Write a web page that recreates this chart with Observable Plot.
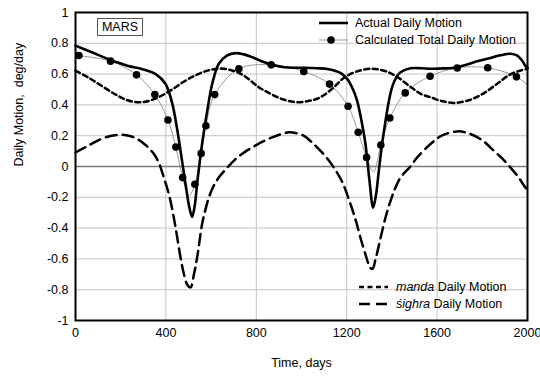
<!DOCTYPE html>
<html>
<head>
<meta charset="utf-8">
<script src="https://cdn.jsdelivr.net/npm/d3@7"></script>
<script src="https://cdn.jsdelivr.net/npm/@observablehq/plot@0.6"></script>
<style>
  html, body { margin: 0; padding: 0; background: #fff; }
  #chart { width: 540px; height: 379px; }
</style>
</head>
<body>
<div id="chart"></div>
<script>
// ---- data ----
const actualT = [0,75,150,230,300,355,398,428,450,465,487,503,516,528,538,560,583,605,634,670,708,745,782,830,870,922,973,1010,1069,1120,1172,1202,1228,1246,1265,1283,1300,1317,1330,1342,1357,1372,1386,1401,1420,1438,1482,1530,1571,1630,1689,1740,1777,1836,1880,1925,1955,1975,1990,2000];
const actualV = [0.785,0.74,0.695,0.655,0.63,0.60,0.537,0.41,0.24,0.10,-0.115,-0.26,-0.328,-0.25,-0.115,0.146,0.363,0.537,0.667,0.72,0.736,0.728,0.71,0.68,0.66,0.645,0.641,0.641,0.638,0.632,0.608,0.569,0.50,0.428,0.30,0.146,-0.08,-0.267,-0.18,-0.028,0.15,0.298,0.42,0.515,0.58,0.612,0.638,0.638,0.635,0.637,0.645,0.665,0.684,0.705,0.722,0.732,0.72,0.69,0.655,0.64];

const calcDotT = [15,155,270,351,409,444,474,528,556,577,616,723,866,1010,1124,1206,1251,1288,1351,1391,1459,1569,1689,1824,1951];
const calcDotV = [0.721,0.684,0.595,0.467,0.302,0.126,-0.072,-0.115,0.085,0.265,0.467,0.635,0.66,0.617,0.535,0.391,0.222,0.059,0.139,0.315,0.478,0.586,0.64,0.641,0.582];

const calcLineT = [0,15,155,270,351,409,444,474,503,528,556,577,616,723,866,1010,1124,1206,1251,1288,1318,1351,1391,1459,1569,1689,1824,1951,2000];
const calcLineV = [0.727,0.721,0.684,0.595,0.467,0.302,0.126,-0.072,-0.19,-0.115,0.085,0.265,0.467,0.635,0.66,0.617,0.535,0.391,0.222,0.059,-0.035,0.139,0.315,0.478,0.586,0.64,0.641,0.582,0.53];

const mandaT = [0,60,125,180,230,290,351,420,487,540,590,640,690,740,811,863,920,981,1040,1084,1140,1187,1240,1310,1370,1420,1480,1530,1571,1620,1674,1740,1800,1866,1920,1969,2000];
const mandaV = [0.623,0.575,0.515,0.465,0.43,0.417,0.439,0.493,0.558,0.598,0.625,0.636,0.625,0.595,0.515,0.472,0.435,0.417,0.428,0.45,0.51,0.575,0.615,0.635,0.62,0.585,0.52,0.47,0.45,0.425,0.413,0.43,0.47,0.537,0.595,0.623,0.635];

const sighraT = [0,50,96,150,199,240,273,310,347,370,391,415,435,450,465,480,494,509,524,538,560,575,590,610,634,670,708,745,782,830,870,910,944,980,1010,1040,1069,1110,1143,1180,1217,1240,1261,1285,1303,1314,1328,1350,1372,1394,1415,1438,1482,1512,1571,1620,1689,1740,1800,1851,1890,1925,1960,1991,2000];
const sighraV = [0.091,0.13,0.167,0.197,0.206,0.198,0.178,0.14,0.081,0.02,-0.072,-0.19,-0.332,-0.46,-0.593,-0.70,-0.766,-0.785,-0.70,-0.593,-0.375,-0.28,-0.202,-0.13,-0.072,-0.01,0.048,0.09,0.124,0.163,0.189,0.21,0.222,0.215,0.2,0.165,0.124,0.06,-0.007,-0.1,-0.245,-0.35,-0.463,-0.58,-0.655,-0.665,-0.6,-0.463,-0.33,-0.223,-0.14,-0.072,0.0,0.059,0.146,0.2,0.228,0.215,0.17,0.102,0.05,-0.007,-0.07,-0.137,-0.15];

const xTicks = [0,400,800,1200,1600,2000];
const yTicks = [-1,-0.8,-0.6,-0.4,-0.2,0,0.2,0.4,0.6,0.8,1];
const xGrid = [400,800,1200,1600];
const yGrid = [-0.8,-0.6,-0.4,-0.2,0.2,0.4,0.6,0.8];

const xLabel = "Time, days";
const yLabel = "Daily Motion,\u00a0 deg/day";
const planet = "MARS";
const legendTop = ["Actual Daily Motion", "Calculated Total Daily Motion"];
const legendBottom = [["manda", " Daily Motion"], ["\u015bighra", " Daily Motion"]];

// ---- build tables ----
const zip = (T, V) => T.map((t, i) => ({t, v: V[i]}));
const actual = zip(actualT, actualV);
const calcDots = zip(calcDotT, calcDotV);
const calcLine = zip(calcLineT, calcLineV);
const manda = zip(mandaT, mandaV);
const sighra = zip(sighraT, sighraV);

const fmt = d => String(Math.round(d * 10) / 10);

const plot = Plot.plot({
  width: 540,
  height: 379,
  marginLeft: 75,
  marginRight: 13,
  marginTop: 12,
  marginBottom: 59,
  style: {fontFamily: "'Liberation Sans', Arial, sans-serif", fontSize: "12.5px", color: "#000", background: "#fff"},
  x: {domain: [0, 2000]},
  y: {domain: [-1, 1]},
  marks: [
    Plot.gridX(xGrid, {stroke: "#c4c4c4", strokeOpacity: 1, strokeWidth: 1}),
    Plot.gridY(yGrid, {stroke: "#c4c4c4", strokeOpacity: 1, strokeWidth: 1}),
    Plot.ruleY([0], {stroke: "#7a7a7a", strokeWidth: 1.5}),
    Plot.line(calcLine, {x: "t", y: "v", stroke: "#808080", strokeWidth: 0.8, curve: "catmull-rom"}),
    Plot.line(manda, {x: "t", y: "v", stroke: "#000", strokeWidth: 2.5, strokeDasharray: "5,3.5", curve: "catmull-rom"}),
    Plot.line(sighra, {x: "t", y: "v", stroke: "#000", strokeWidth: 2.5, strokeDasharray: "11,6", curve: "catmull-rom"}),
    Plot.line(actual, {x: "t", y: "v", stroke: "#000", strokeWidth: 2.6, curve: "catmull-rom"}),
    Plot.dot(calcDots, {x: "t", y: "v", r: 3.8, fill: "#000", stroke: "none"}),
    Plot.frame({stroke: "#000", strokeWidth: 2}),
    Plot.axisX({ticks: xTicks, tickSize: 0, tickPadding: 8, tickFormat: d => String(d), label: null}),
    Plot.axisY({ticks: yTicks, tickSize: 0, tickPadding: 7, tickFormat: fmt, label: null}),
    Plot.text([xLabel], {frameAnchor: "bottom", dy: 46, fontSize: 12.5}),
    Plot.text([yLabel], {frameAnchor: "left", dx: -57, rotate: -90, fontSize: 12.5})
  ]
});

document.getElementById("chart").appendChild(plot);

// ---- decorations: label box & legends ----
const svg = d3.select(plot);
const g = svg.append("g")
  .attr("font-family", "'Liberation Sans', Arial, sans-serif")
  .attr("font-size", 12.5)
  .attr("text-anchor", "start")
  .attr("fill", "#000");

// MARS box
g.append("rect").attr("x", 97.5).attr("y", 18.5).attr("width", 45).attr("height", 17)
  .attr("fill", "#fff").attr("stroke", "#555").attr("stroke-width", 1);
g.append("text").attr("x", 120).attr("y", 27).attr("dy", "0.35em").attr("text-anchor", "middle").text(planet);

// top legend
g.append("line").attr("x1", 319).attr("x2", 348).attr("y1", 23).attr("y2", 23).attr("stroke", "#000").attr("stroke-width", 2.6);
g.append("text").attr("x", 355).attr("y", 23).attr("dy", "0.35em").attr("text-anchor", "start").text(legendTop[0]);
g.append("line").attr("x1", 319).attr("x2", 348).attr("y1", 40).attr("y2", 40).attr("stroke", "#808080").attr("stroke-width", 0.8);
g.append("circle").attr("cx", 331).attr("cy", 40).attr("r", 3.8).attr("fill", "#000");
g.append("text").attr("x", 355).attr("y", 40).attr("dy", "0.35em").attr("text-anchor", "start").text(legendTop[1]);

// bottom legend
const dashes = ["5,3.5", "11,6"];
[287, 304].forEach((yy, i) => {
  g.append("line").attr("x1", 359).attr("x2", 388).attr("y1", yy).attr("y2", yy)
    .attr("stroke", "#000").attr("stroke-width", 2.5).attr("stroke-dasharray", dashes[i]);
  const t = g.append("text").attr("x", 396).attr("y", yy).attr("dy", "0.35em")
    .attr("text-anchor", "start").style("white-space", "pre");
  t.append("tspan").attr("font-style", "italic").text(legendBottom[i][0]);
  t.append("tspan").text(legendBottom[i][1]);
});
</script>
</body>
</html>
